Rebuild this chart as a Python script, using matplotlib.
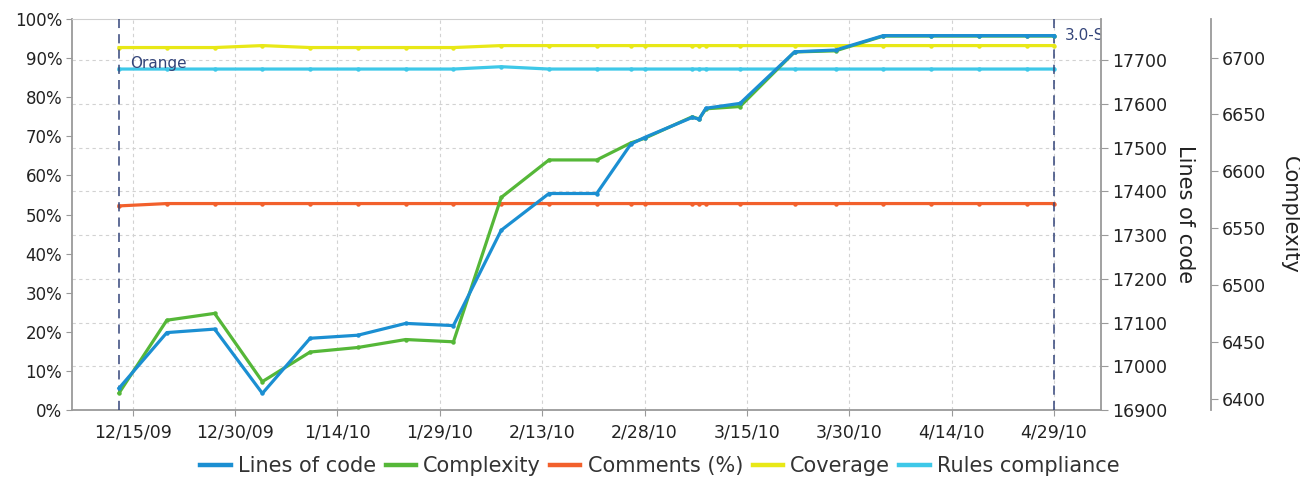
#%% sonar style time machine chart
import matplotlib
matplotlib.use('Agg')
import matplotlib.pyplot as plt
from matplotlib.lines import Line2D
from matplotlib.transforms import blended_transform_factory
import pandas as pd

#%% data
dates = ['2009-12-13', '2009-12-20', '2009-12-27', '2010-01-03', '2010-01-10', '2010-01-17',
         '2010-01-24', '2010-01-31', '2010-02-07', '2010-02-14', '2010-02-21', '2010-02-26',
         '2010-02-28', '2010-03-07', '2010-03-08', '2010-03-09', '2010-03-14', '2010-03-22',
         '2010-03-28', '2010-04-04', '2010-04-11', '2010-04-18', '2010-04-25', '2010-04-29']

lines_of_code = [16950, 17077, 17085, 16938, 17064, 17071, 17098, 17093, 17311, 17395, 17395, 17508,
                 17523, 17569, 17565, 17590, 17601, 17719, 17723, 17756, 17756, 17756, 17756, 17756]
complexity    = [6405, 6469, 6475, 6415, 6441, 6445, 6452, 6450, 6577, 6610, 6610, 6625,
                 6629, 6648, 6646, 6655, 6657, 6705, 6706, 6719, 6719, 6719, 6719, 6719]
comments      = [52.2, 52.8, 52.8, 52.8, 52.8, 52.8, 52.8, 52.8, 52.8, 52.8, 52.8, 52.8,
                 52.8, 52.8, 52.8, 52.8, 52.8, 52.8, 52.8, 52.8, 52.8, 52.8, 52.8, 52.8]
coverage      = [92.7, 92.7, 92.7, 93.2, 92.7, 92.7, 92.7, 92.7, 93.2, 93.2, 93.2, 93.2,
                 93.2, 93.2, 93.2, 93.2, 93.2, 93.2, 93.2, 93.2, 93.2, 93.2, 93.2, 93.2]
rules         = [87.2, 87.2, 87.2, 87.2, 87.2, 87.2, 87.2, 87.2, 87.8, 87.2, 87.2, 87.2,
                 87.2, 87.2, 87.2, 87.2, 87.2, 87.2, 87.2, 87.2, 87.2, 87.2, 87.2, 87.2]

event_dates  = ['2009-12-13', '2010-04-29']
event_labels = ['Orange', '3.0-SNAPSHOT']

tick_dates  = ['2009-12-15', '2009-12-30', '2010-01-14', '2010-01-29', '2010-02-13',
               '2010-02-28', '2010-03-15', '2010-03-30', '2010-04-14', '2010-04-29']
tick_labels = ['12/15/09', '12/30/09', '1/14/10', '1/29/10', '2/13/10',
               '2/28/10', '3/15/10', '3/30/10', '4/14/10', '4/29/10']

pct_ticks = [0, 10, 20, 30, 40, 50, 60, 70, 80, 90, 100]
loc_ticks = [16900, 17000, 17100, 17200, 17300, 17400, 17500, 17600, 17700]
cx_ticks  = [6400, 6450, 6500, 6550, 6600, 6650, 6700]

#%% styles
c_loc, c_cx, c_com, c_cov, c_rul = '#1b8fd2', '#55b738', '#f2602c', '#e8e817', '#3ec8e8'
c_event = '#34457a'
c_axis = '#9a9a9a'
lw = 2.3

x = pd.to_datetime(dates)
xt = pd.to_datetime(tick_dates)
xe = pd.to_datetime(event_dates)

fig = plt.figure(figsize=(13, 4.79), dpi=100)
ax = fig.add_axes([72/1300, 69/479, 1029/1300, 391/479])
ax_cx = ax.twinx()
ax_loc = ax.twinx()

pad = pd.Timedelta(days=6.9)
ax.set_xlim(x[0] - pad, x[-1] + pad)
ax.set_ylim(0, 100)
ax_loc.set_ylim(16900, 17794)
ax_cx.set_ylim(6390, 6734)

# grid: vertical on date ticks, horizontal on lines-of-code ticks
ax.set_xticks(xt)
ax.set_xticklabels(tick_labels)
ax.grid(axis='x', color='#d2d2d2', linestyle=(0, (3, 3)), linewidth=0.8)
tr = blended_transform_factory(ax.transAxes, ax_loc.transData)
for t in loc_ticks[1:]:
    ax.plot([0, 1], [t, t], transform=tr, color='#d2d2d2', linestyle=(0, (3, 3)), linewidth=0.8, zorder=0.5)

# percentage series
mk = dict(marker='o', markersize=2.2)
ax.plot(x, rules, color=c_rul, lw=lw, **mk, markeredgecolor=c_rul)
ax.plot(x, coverage, color=c_cov, lw=lw, **mk, markeredgecolor=c_cov)
ax.plot(x, comments, color=c_com, lw=lw, **mk, markeredgecolor=c_com)
ax_cx.plot(x, complexity, color=c_cx, lw=lw, **mk, markeredgecolor=c_cx)
ax_loc.plot(x, lines_of_code, color=c_loc, lw=lw, **mk, markeredgecolor=c_loc)

# events
for d, lab in zip(xe, event_labels):
    ax.axvline(d, color=c_event, linestyle=(0, (6, 4)), linewidth=1.1, zorder=3)
yf = {'Orange': 0.885, '3.0-SNAPSHOT': 0.957}
for d, lab in zip(xe, event_labels):
    ax.annotate(lab, xy=(d, yf[lab]), xycoords=('data', 'axes fraction'), xytext=(8, 0),
                textcoords='offset points', fontsize=11, color=c_event, va='center',
                ha='left', annotation_clip=False, clip_on=True)

# axes styling
ax.set_yticks(pct_ticks)
ax.set_yticklabels([f'{p}%' for p in pct_ticks])
ax_loc.set_yticks(loc_ticks)
ax_cx.set_yticks(cx_ticks)

for a in (ax, ax_loc, ax_cx):
    for s in a.spines.values():
        s.set_visible(False)
ax.spines['left'].set_visible(True)
ax.spines['bottom'].set_visible(True)
ax.spines['top'].set_visible(True)
ax.spines['left'].set_color(c_axis)
ax.spines['bottom'].set_color(c_axis)
ax.spines['top'].set_color('#cfcfcf')
ax.spines['left'].set_linewidth(1.3)
ax.spines['bottom'].set_linewidth(1.3)
ax_loc.spines['right'].set_visible(True)
ax_loc.spines['right'].set_color(c_axis)
ax_loc.spines['right'].set_linewidth(1.3)
ax_cx.spines['right'].set_visible(True)
ax_cx.spines['right'].set_color(c_axis)
ax_cx.spines['right'].set_linewidth(1.3)
ax_cx.spines['right'].set_position(('axes', (1211 - 72) / 1029))

ax.tick_params(axis='y', colors=c_axis, labelcolor='#222222', labelsize=12, length=4, pad=3)
ax.tick_params(axis='x', colors=c_axis, labelcolor='#222222', labelsize=12.5, length=4, pad=6)
ax_loc.tick_params(axis='y', colors=c_axis, labelcolor='#222222', labelsize=12.5, length=5, pad=3)
ax_cx.tick_params(axis='y', colors=c_axis, labelcolor='#222222', labelsize=12.5, length=5, pad=3)

ax_loc.set_ylabel('Lines of code', rotation=270, fontsize=15, color='#222222', va='center', ha='center')
ax_loc.yaxis.set_label_coords((1185 - 72) / 1029, 0.5)
ax_cx.set_ylabel('Complexity', rotation=270, fontsize=15, color='#222222', va='center', ha='center')
ax_cx.yaxis.set_label_coords((1290 - 72) / 1029, 0.5)

handles = [Line2D([], [], color=c, lw=3.2) for c in (c_loc, c_cx, c_com, c_cov, c_rul)]
names = ['Lines of code', 'Complexity', 'Comments (%)', 'Coverage', 'Rules compliance']
fig.legend(handles, names, loc='center', bbox_to_anchor=(660/1300, 1 - 466/479), ncol=5,
           frameon=False, fontsize=15, handlelength=1.45, handletextpad=0.35, columnspacing=0.45,
           labelcolor='#333333')

plt.savefig('out.png', dpi=100)
